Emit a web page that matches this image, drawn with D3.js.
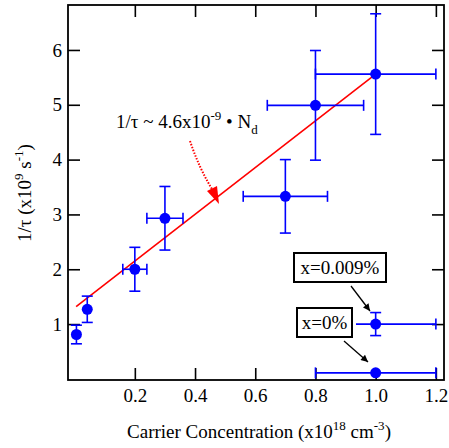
<!DOCTYPE html>
<html>
<head>
<meta charset="utf-8">
<script src="https://cdn.jsdelivr.net/npm/d3@7"></script>
<style>
  html, body { margin: 0; padding: 0; background: #fff; }
  svg { display: block; font-family: "Liberation Serif", "Times New Roman", serif; }
</style>
</head>
<body>
<svg id="chart" width="449" height="448"></svg>
<script>
// Scattering rate vs. carrier concentration (doped samples)
const concentration = [0.006, 0.042, 0.20, 0.30, 0.70, 0.80, 1.00];
const rate          = [0.81, 1.27, 2.00, 2.93, 3.33, 4.99, 5.56];
const rateErr       = [0.17, 0.24, 0.40, 0.58, 0.67, 1.00, 1.10];
const concErr       = [0, 0, 0.04, 0.06, 0.14, 0.16, 0.20];

// Reference samples (x = 0.009 % and x = 0 %)
const refLabels = ["x=0.009%", "x=0%"];
const refConc   = [1.00, 1.00];
const refRate   = [1.00, 0.11];
const refRateErr = [0.21, 0];
const refConcErr = [0.20, 0.20];

// Linear fit endpoints
const fitX = [0.005, 1.00];
const fitY = [1.32, 5.56];

const xTicks = [0.2, 0.4, 0.6, 0.8, 1.0, 1.2];
const yTicks = [1, 2, 3, 4, 5, 6];

const svg = d3.select("#chart");
const m = { left: 68, right: 444, top: 5, bottom: 380 };
const FS = 19;

const x = d3.scaleLinear().domain([-0.022, 1.227]).range([m.left, m.right]);
const y = d3.scaleLinear().domain([-0.02, 6.82]).range([m.bottom, m.top]);

const axisStyle = g => {
  g.selectAll(".domain").remove();
  g.selectAll(".tick line").attr("stroke", "#000").attr("stroke-width", 1.6);
  g.selectAll(".tick text").attr("font-size", FS).attr("fill", "#000")
    .attr("font-family", "Liberation Serif, Times New Roman, serif");
};

svg.append("g").attr("transform", `translate(0,${m.bottom})`)
  .call(d3.axisBottom(x).tickValues(xTicks).tickFormat(d3.format(".1f"))
    .tickSizeInner(-12).tickSizeOuter(0).tickPadding(9))
  .call(axisStyle);
svg.append("g").attr("transform", `translate(0,${m.top})`)
  .call(d3.axisTop(x).tickValues(xTicks).tickFormat("")
    .tickSizeInner(-12).tickSizeOuter(0))
  .call(axisStyle);
svg.append("g").attr("transform", `translate(${m.left},0)`)
  .call(d3.axisLeft(y).tickValues(yTicks).tickFormat(d3.format("d"))
    .tickSizeInner(-12).tickSizeOuter(0).tickPadding(6))
  .call(axisStyle);
svg.append("g").attr("transform", `translate(${m.right},0)`)
  .call(d3.axisRight(y).tickValues(yTicks).tickFormat("")
    .tickSizeInner(-12).tickSizeOuter(0))
  .call(axisStyle);

// plot frame
svg.append("rect")
  .attr("x", m.left).attr("y", m.top)
  .attr("width", m.right - m.left).attr("height", m.bottom - m.top)
  .attr("fill", "none").attr("stroke", "#000").attr("stroke-width", 1.8);

// fit line
svg.append("line")
  .attr("x1", x(fitX[0])).attr("y1", y(fitY[0]))
  .attr("x2", x(fitX[1])).attr("y2", y(fitY[1]))
  .attr("stroke", "#ff0000").attr("stroke-width", 1.6);

const blue = "#0000ff";
const cap = 5.5;

function drawPoints(xs, ys, ex, ey) {
  const g = svg.append("g").attr("stroke", blue).attr("stroke-width", 1.6).attr("fill", "none");
  xs.forEach((cx, i) => {
    const px = x(cx), py = y(ys[i]);
    if (ey[i] > 0) {
      const t = y(ys[i] + ey[i]), b = y(ys[i] - ey[i]);
      g.append("line").attr("x1", px).attr("x2", px).attr("y1", t).attr("y2", b);
      g.append("line").attr("x1", px - cap).attr("x2", px + cap).attr("y1", t).attr("y2", t);
      g.append("line").attr("x1", px - cap).attr("x2", px + cap).attr("y1", b).attr("y2", b);
    }
    if (ex[i] > 0) {
      const l = x(cx - ex[i]), r = x(cx + ex[i]);
      g.append("line").attr("x1", l).attr("x2", r).attr("y1", py).attr("y2", py);
      g.append("line").attr("x1", l).attr("x2", l).attr("y1", py - cap).attr("y2", py + cap);
      g.append("line").attr("x1", r).attr("x2", r).attr("y1", py - cap).attr("y2", py + cap);
    }
    svg.append("circle").attr("cx", px).attr("cy", py).attr("r", 5.5).attr("fill", blue);
  });
}

drawPoints(concentration, rate, concErr, rateErr);
drawPoints(refConc, refRate, refConcErr, refRateErr);

// black arrowhead for the sample labels
const defs = svg.append("defs");
defs.append("marker").attr("id", "headBlack")
  .attr("viewBox", "0 0 10 10").attr("refX", 10).attr("refY", 5)
  .attr("markerWidth", 9).attr("markerHeight", 7).attr("markerUnits", "userSpaceOnUse")
  .attr("orient", "auto")
  .append("path").attr("d", "M0,0 L10,5 L0,10 Z").attr("fill", "#000");

// labelled boxes for the reference samples
const boxes = [
  { x0: 294, y0: 253, w: 92, h: 29, ax1: 351, ay1: 286, ax2: 370, ay2: 311 },
  { x0: 297, y0: 308, w: 55, h: 29, ax1: 344, ay1: 341, ax2: 368, ay2: 362 }
];
boxes.forEach((b, i) => {
  svg.append("line").attr("x1", b.ax1).attr("y1", b.ay1).attr("x2", b.ax2).attr("y2", b.ay2)
    .attr("stroke", "#000").attr("stroke-width", 1.3).attr("marker-end", "url(#headBlack)");
  svg.append("rect").attr("x", b.x0 - 4).attr("y", b.y0 - 2).attr("width", b.w + 8).attr("height", b.h + 4)
    .attr("fill", "#fff");
  svg.append("rect").attr("x", b.x0).attr("y", b.y0).attr("width", b.w).attr("height", b.h)
    .attr("fill", "#fff").attr("stroke", "#000").attr("stroke-width", 2);
  svg.append("text").attr("x", b.x0 + b.w / 2).attr("y", b.y0 + b.h / 2)
    .attr("dy", "0.35em").attr("text-anchor", "middle").attr("font-size", FS)
    .text(refLabels[i]);
});

// fit annotation
const ann = svg.append("text").attr("x", 116).attr("y", 128).attr("font-size", FS);
ann.append("tspan").text("1/τ ~ 4.6x10");
ann.append("tspan").attr("dy", -8).attr("font-size", 13).text("-9");
ann.append("tspan").attr("dy", 8).text(" • N");
ann.append("tspan").attr("dy", 6).attr("font-size", 13).text("d");

// dotted red pointer with a filled head
svg.append("path")
  .attr("d", "M190,141 Q199,168 212,189")
  .attr("fill", "none").attr("stroke", "#ff0000").attr("stroke-width", 2)
  .attr("stroke-dasharray", "1.5,1.5");
svg.append("path")
  .attr("d", "M207,191 L217,186 L219,204 Z")
  .attr("fill", "#ff0000");

// axis titles
const xt = svg.append("text").attr("x", 259).attr("y", 438)
  .attr("text-anchor", "middle").attr("font-size", FS);
xt.append("tspan").text("Carrier Concentration (x10");
xt.append("tspan").attr("dy", -8).attr("font-size", 13).text("18");
xt.append("tspan").attr("dy", 8).text(" cm");
xt.append("tspan").attr("dy", -8).attr("font-size", 13).text("-3");
xt.append("tspan").attr("dy", 8).text(")");

const yt = svg.append("text").attr("transform", "translate(31,193) rotate(-90)")
  .attr("text-anchor", "middle").attr("font-size", FS);
yt.append("tspan").text("1/τ (x10");
yt.append("tspan").attr("dy", -8).attr("font-size", 13).text("9");
yt.append("tspan").attr("dy", 8).text(" s");
yt.append("tspan").attr("dy", -8).attr("font-size", 13).text("-1");
yt.append("tspan").attr("dy", 8).text(")");
</script>
</body>
</html>
